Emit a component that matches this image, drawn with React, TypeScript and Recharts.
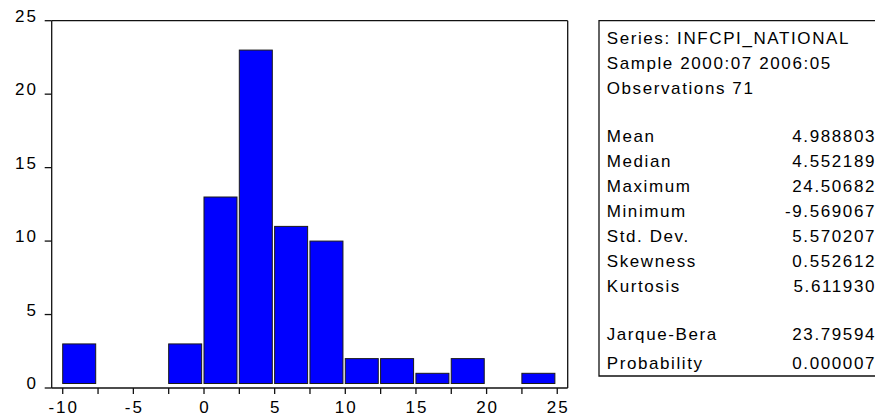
import { BarChart, Bar, XAxis, YAxis } from "recharts";

// histogram bins (width 2.5) and frequencies
const binStarts = [-10, -7.5, -5, -2.5, 0, 2.5, 5, 7.5, 10, 12.5, 15, 17.5, 20, 22.5];
const counts = [3, 0, 0, 3, 13, 23, 11, 10, 2, 2, 1, 2, 0, 1];

const xTicks = [-10, -7.5, -5, -2.5, 0, 2.5, 5, 7.5, 10, 12.5, 15, 17.5, 20, 22.5, 25];
const yTicks = [0, 5, 10, 15, 20, 25];

const headerLines = ["Series: INFCPI_NATIONAL", "Sample 2000:07 2006:05", "Observations 71"];
const statNames = ["Mean", "Median", "Maximum", "Minimum", "Std. Dev.", "Skewness", "Kurtosis"];
const statValues = ["4.988803", "4.552189", "24.50682", "-9.569067", "5.570207", "0.552612", "5.611930"];
const testNames = ["Jarque-Bera", "Probability"];
const testValues = ["23.79594", "0.000007"];

const data = binStarts.map((b, i) => ({ bin: String(b), mid: b + 1.25, count: counts[i] }));

const FONT = "'Liberation Sans', Arial, sans-serif";
const LINE = "#111";

const XTick = (props: any) => {
  const { x, y, payload } = props;
  const v = payload.value;
  if (v % 5 !== 0) return null;
  return (
    <text x={x + 1} y={y + 17.3} textAnchor="middle" fontFamily={FONT} fontSize={17} letterSpacing={2} fill="#000" stroke="none">
      {v}
    </text>
  );
};

const YTick = (props: any) => {
  const { x, y, payload } = props;
  return (
    <text x={x} y={y + 1} textAnchor="end" fontFamily={FONT} fontSize={17} letterSpacing={2} fill="#000" stroke="none">
      {payload.value}
    </text>
  );
};

// EViews draws the bars a few px above the axis
const HistBar = (props: any) => {
  const { x, y, width, height } = props;
  if (!height || height <= 4.5) return null;
  return (
    <rect x={x - 1} y={y} width={width} height={height - 4.5} fill="#0000FF" stroke="#1a1a1a" strokeWidth={1} />
  );
};

const headerY = [44.3, 69.3, 94.3];
const statY = [141.7, 166.7, 191.7, 216.7, 241.7, 266.7, 291.7];
const testY = [340, 369];

const App = () => {
  return (
    <div style={{ position: "absolute", left: 0, top: 0, width: 875, height: 420, background: "#fff" }}>
      <BarChart
        width={875}
        height={420}
        data={data}
        margin={{ top: 19.7, right: 306.3, bottom: 2, left: 11.7 }}
        barCategoryGap={1}
      >
        <XAxis
          xAxisId="num"
          dataKey="mid"
          type="number"
          domain={[-10.78, 25.74]}
          ticks={xTicks}
          interval={0}
          allowDataOverflow
          height={30}
          tickSize={6}
          tick={<XTick />}
          stroke={LINE}
          strokeWidth={1.3}
          axisLine
          tickLine
        />
        <XAxis xAxisId="cat" dataKey="bin" hide height={0} padding={{ left: 11, right: 10.5 }} />
        <XAxis
          xAxisId="top"
          orientation="top"
          dataKey="mid"
          type="number"
          domain={[-10.78, 25.74]}
          allowDataOverflow
          height={1}
          tick={false}
          tickLine={false}
          stroke={LINE}
          strokeWidth={1.3}
          axisLine
        />
        <YAxis
          dataKey="count"
          domain={[0, 25]}
          ticks={yTicks}
          interval={0}
          width={40}
          tickSize={7}
          tickMargin={6.7}
          tick={<YTick />}
          stroke={LINE}
          strokeWidth={1.3}
          axisLine
          tickLine
        />
        <YAxis
          yAxisId="r"
          orientation="right"
          dataKey="count"
          domain={[0, 25]}
          width={1}
          tick={false}
          tickLine={false}
          stroke={LINE}
          strokeWidth={1.3}
          axisLine
        />
        <Bar xAxisId="cat" dataKey="count" shape={<HistBar />} isAnimationActive={false} />
      </BarChart>

      <svg width={875} height={420} style={{ position: "absolute", left: 0, top: 0, pointerEvents: "none" }}>
        <path d="M 880 20.7 H 599 V 376 H 880" fill="none" stroke={LINE} strokeWidth={1.3} />
        <g fontFamily={FONT} fontSize={17} letterSpacing={1.6} fill="#000">
          {headerLines.map((t, i) => (
            <text key={t} x={606.7} y={headerY[i]}>{t}</text>
          ))}
          {statNames.map((t, i) => (
            <text key={t} x={606.7} y={statY[i]}>{t}</text>
          ))}
          {statValues.map((t, i) => (
            <text key={statNames[i]} x={876} y={statY[i]} textAnchor="end">{t}</text>
          ))}
          {testNames.map((t, i) => (
            <text key={t} x={606.7} y={testY[i]}>{t}</text>
          ))}
          {testValues.map((t, i) => (
            <text key={testNames[i]} x={876} y={testY[i]} textAnchor="end">{t}</text>
          ))}
        </g>
      </svg>
    </div>
  );
};

export default App;
